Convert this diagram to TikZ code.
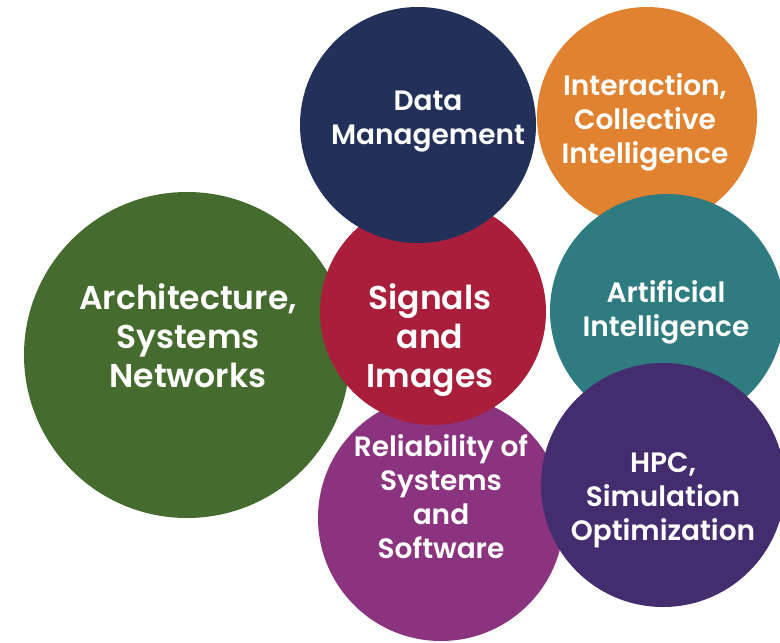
\documentclass[tikz,border=0pt]{standalone}
\usepackage{fontspec}
\setmainfont{Poppins}[BoldFont={Poppins SemiBold}]
\definecolor{cgreen}{HTML}{456C2E}
\definecolor{cred}{HTML}{A91F3B}
\definecolor{cnavy}{HTML}{22305A}
\definecolor{corange}{HTML}{E0822F}
\definecolor{cteal}{HTML}{2E7B80}
\definecolor{cmagenta}{HTML}{8B337F}
\definecolor{cpurple}{HTML}{432D6F}
\tikzset{
  bubble/.style={circle, draw=none, inner sep=0pt},
  big/.style={text=white, align=center, font=\bfseries\fontsize{33}{39}\selectfont},
  small/.style={text=white, align=center, font=\bfseries\fontsize{28}{34}\selectfont},
}
\begin{document}
\begin{tikzpicture}[x=1pt,y=-1pt]
\useasboundingbox (0,0) rectangle (780,643);
\clip (0,0) rectangle (780,643);
% topic bubbles, back to front
\node[bubble, fill=cgreen, minimum size=326pt] (arch) at (187,355) {};
\node[bubble, fill=cmagenta, minimum size=246pt] (rel) at (441,518) {};
\node[bubble, fill=cred, minimum size=226pt] (sig) at (433,312) {};
\node[bubble, fill=cnavy, minimum size=236pt] (data) at (418,125) {};
\node[bubble, fill=corange, minimum size=220pt] (inter) at (647,117) {};
\node[bubble, fill=cteal, minimum size=234pt] (ai) at (667,311) {};
\node[bubble, fill=cpurple, minimum size=244pt] (hpc) at (663,485) {};
% labels
\node[big] (archt) at (188,335.5) {Architecture,\\Systems\\Networks};
\node[big] (sigt) at (430,340) {Signals\\and\\Images};
\node[small] (datat) at (428,121.5) {Data\\Management};
\node[small] (intert) at (645,122) {Interaction,\\Collective\\Intelligence};
\node[small] (ait) at (666,312) {Artificial\\Intelligence};
\node[small] (relt) at (441,497) {Reliability of\\Systems\\and\\Software};
\node[small] (hpct) at (663,500) {HPC,\\Simulation\\Optimization};
\end{tikzpicture}
\end{document}
